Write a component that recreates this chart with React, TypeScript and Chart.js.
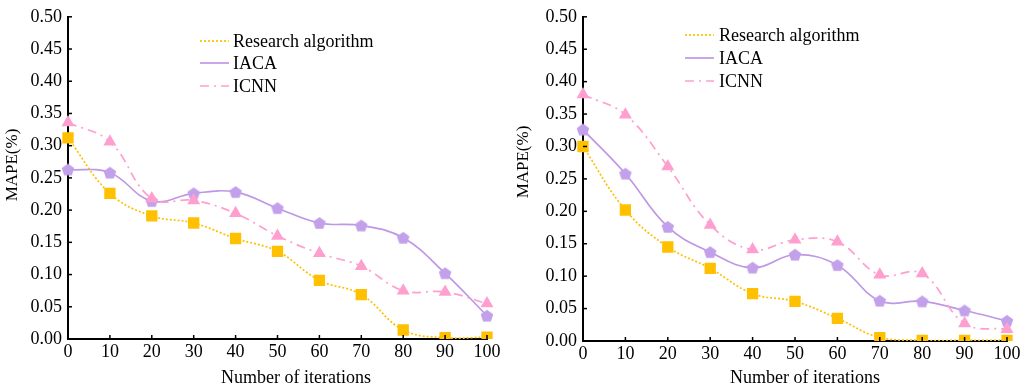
import React, { useEffect, useRef } from "react";
import { Chart, registerables } from "chart.js";

Chart.register(...registerables);

const xLabels = ["0", "10", "20", "30", "40", "50", "60", "70", "80", "90", "100"];
const seriesNames = ["Research algorithm", "IACA", "ICNN"];

const researchLeft = [0.312, 0.226, 0.191, 0.180, 0.156, 0.136, 0.091, 0.069, 0.014, 0.002, 0.003];
const iacaLeft = [0.263, 0.258, 0.214, 0.226, 0.228, 0.203, 0.180, 0.176, 0.157, 0.102, 0.036];
const icnnLeft = [0.336, 0.306, 0.218, 0.215, 0.195, 0.160, 0.133, 0.113, 0.075, 0.073, 0.055];

const researchRight = [0.300, 0.202, 0.145, 0.112, 0.073, 0.061, 0.035, 0.005, 0.001, 0.001, 0.001];
const iacaRight = [0.326, 0.258, 0.176, 0.137, 0.113, 0.133, 0.117, 0.062, 0.061, 0.047, 0.031];
const icnnRight = [0.380, 0.349, 0.269, 0.179, 0.141, 0.156, 0.153, 0.102, 0.104, 0.027, 0.018];

const YELLOW = "#FFC000";
const PURPLE = "#BE98E6";
const PURPLE_PT = "#C3A0EA";
const PINK = "#FF9FCF";
const FONT = "'Liberation Serif', 'Times New Roman', serif";

function makePentagon(color: string, r: number) {
  const c = document.createElement("canvas");
  const s = Math.ceil(r * 2 + 2);
  c.width = s;
  c.height = s;
  const ctx = c.getContext("2d")!;
  ctx.fillStyle = color;
  ctx.beginPath();
  for (let i = 0; i < 5; i++) {
    const a = -Math.PI / 2 + (i * 2 * Math.PI) / 5;
    const px = s / 2 + r * Math.cos(a);
    const py = s / 2 + r * Math.sin(a) + 0.5;
    if (i === 0) ctx.moveTo(px, py);
    else ctx.lineTo(px, py);
  }
  ctx.closePath();
  ctx.fill();
  return c;
}

type PanelProps = {
  research: number[];
  iaca: number[];
  icnn: number[];
  width: number;
  padTop: number;
  padRight: number;
  xAxisHeight: number;
  legendX: number;
  legendTextX: number;
  legendRows: number[];
  yTitlePos: [number, number];
  xTitlePos: [number, number];
};

function Panel(p: PanelProps) {
  const ref = useRef<HTMLCanvasElement | null>(null);
  useEffect(() => {
    const canvas = ref.current!;
    const pent = makePentagon(PURPLE_PT, 6.6);
    const decor = {
      id: "decor",
      afterDraw(chart: any) {
        const ctx = chart.ctx;
        const xs = chart.scales.x;
        const ys = chart.scales.y;
        const area = chart.chartArea;
        ctx.save();
        // inward ticks
        ctx.strokeStyle = "#000";
        ctx.lineWidth = 1.5;
        xs.ticks.forEach((_t: any, i: number) => {
          const px = xs.getPixelForTick(i);
          ctx.beginPath();
          ctx.moveTo(px, area.bottom);
          ctx.lineTo(px, area.bottom - 4);
          ctx.stroke();
        });
        ys.ticks.forEach((t: any) => {
          const py = ys.getPixelForValue(t.value);
          ctx.beginPath();
          ctx.moveTo(area.left, py);
          ctx.lineTo(area.left + 4, py);
          ctx.stroke();
        });
        // legend
        const styles = [
          { color: YELLOW, dash: [2, 2], width: 1.7 },
          { color: PURPLE, dash: [], width: 1.7 },
          { color: PINK, dash: [9, 5, 2, 5], width: 1.7 },
        ];
        ctx.font = `18px ${FONT}`;
        ctx.textBaseline = "middle";
        ctx.textAlign = "left";
        seriesNames.forEach((name, i) => {
          const y = p.legendRows[i];
          const st = styles[i];
          ctx.strokeStyle = st.color;
          ctx.lineWidth = st.width;
          ctx.setLineDash(st.dash);
          ctx.beginPath();
          ctx.moveTo(p.legendX, y);
          ctx.lineTo(p.legendX + 29, y);
          ctx.stroke();
          ctx.setLineDash([]);
          ctx.fillStyle = "#000";
          ctx.fillText(name, p.legendTextX, y + 1);
        });
        // axis titles
        ctx.fillStyle = "#000";
        ctx.textAlign = "center";
        ctx.font = `18px ${FONT}`;
        ctx.fillText("Number of iterations", p.xTitlePos[0], p.xTitlePos[1]);
        ctx.save();
        ctx.translate(p.yTitlePos[0], p.yTitlePos[1]);
        ctx.rotate(-Math.PI / 2);
        ctx.font = `17px ${FONT}`;
        ctx.fillText("MAPE(%)", 0, 0);
        ctx.restore();
        ctx.restore();
      },
    };
    const chart = new Chart(canvas, {
      type: "line",
      data: {
        labels: xLabels,
        datasets: [
          {
            label: seriesNames[2],
            data: p.icnn,
            borderColor: PINK,
            backgroundColor: PINK,
            borderWidth: 1.7,
            borderDash: [9, 5, 2, 5],
            pointStyle: "triangle",
            pointRadius: 7.5,
            pointBorderWidth: 0,
            tension: 0.4,
          },
          {
            label: seriesNames[1],
            data: p.iaca,
            borderColor: PURPLE,
            backgroundColor: PURPLE_PT,
            borderWidth: 1.7,
            pointStyle: pent as any,
            pointRadius: 6,
            pointBorderWidth: 0,
            tension: 0.4,
          },
          {
            label: seriesNames[0],
            data: p.research,
            borderColor: YELLOW,
            backgroundColor: YELLOW,
            borderWidth: 1.7,
            borderDash: [2, 2],
            pointStyle: "rect",
            pointRadius: 8,
            pointBorderWidth: 0,
            tension: 0.4,
          },
        ],
      },
      options: {
        responsive: false,
        animation: false,
        layout: { padding: { top: p.padTop, right: p.padRight, left: 0, bottom: 0 } },
        plugins: { legend: { display: false }, tooltip: { enabled: false } },
        scales: {
          x: {
            type: "category",
            offset: false,
            grid: { display: false, drawTicks: false },
            border: { display: true, color: "#000", width: 2 },
            ticks: {
              color: "#000",
              font: { family: FONT, size: 18 },
              padding: 2,
              maxRotation: 0,
              autoSkip: false,
            },
            afterFit: (s: any) => {
              s.height = p.xAxisHeight;
            },
          },
          y: {
            min: 0,
            max: 0.5,
            grid: { display: false, drawTicks: false },
            border: { display: true, color: "#000", width: 2 },
            ticks: {
              stepSize: 0.05,
              color: "#000",
              font: { family: FONT, size: 18 },
              padding: 6,
              callback: (v: any) => Number(v).toFixed(2),
            },
            afterFit: (s: any) => {
              s.width = 68;
            },
          },
        },
      },
      plugins: [decor],
    });
    return () => chart.destroy();
  }, []);
  return (
    <canvas
      ref={ref}
      width={p.width}
      height={387}
      style={{ display: "block", width: p.width, height: 387 }}
    />
  );
}

export default function App() {
  return (
    <div
      style={{
        position: "fixed",
        left: 0,
        top: 0,
        width: 1031,
        height: 387,
        background: "#fff",
        display: "flex",
      }}
    >
      <Panel
        research={researchLeft}
        iaca={iacaLeft}
        icnn={icnnLeft}
        width={515}
        padTop={15}
        padRight={28}
        xAxisHeight={48}
        legendX={200}
        legendTextX={233}
        legendRows={[41, 63, 86]}
        yTitlePos={[13, 165]}
        xTitlePos={[296, 378]}
      />
      <Panel
        research={researchRight}
        iaca={iacaRight}
        icnn={icnnRight}
        width={516}
        padTop={13}
        padRight={24}
        xAxisHeight={46}
        legendX={170}
        legendTextX={204}
        legendRows={[35, 58, 81]}
        yTitlePos={[9, 162]}
        xTitlePos={[290, 378]}
      />
    </div>
  );
}
